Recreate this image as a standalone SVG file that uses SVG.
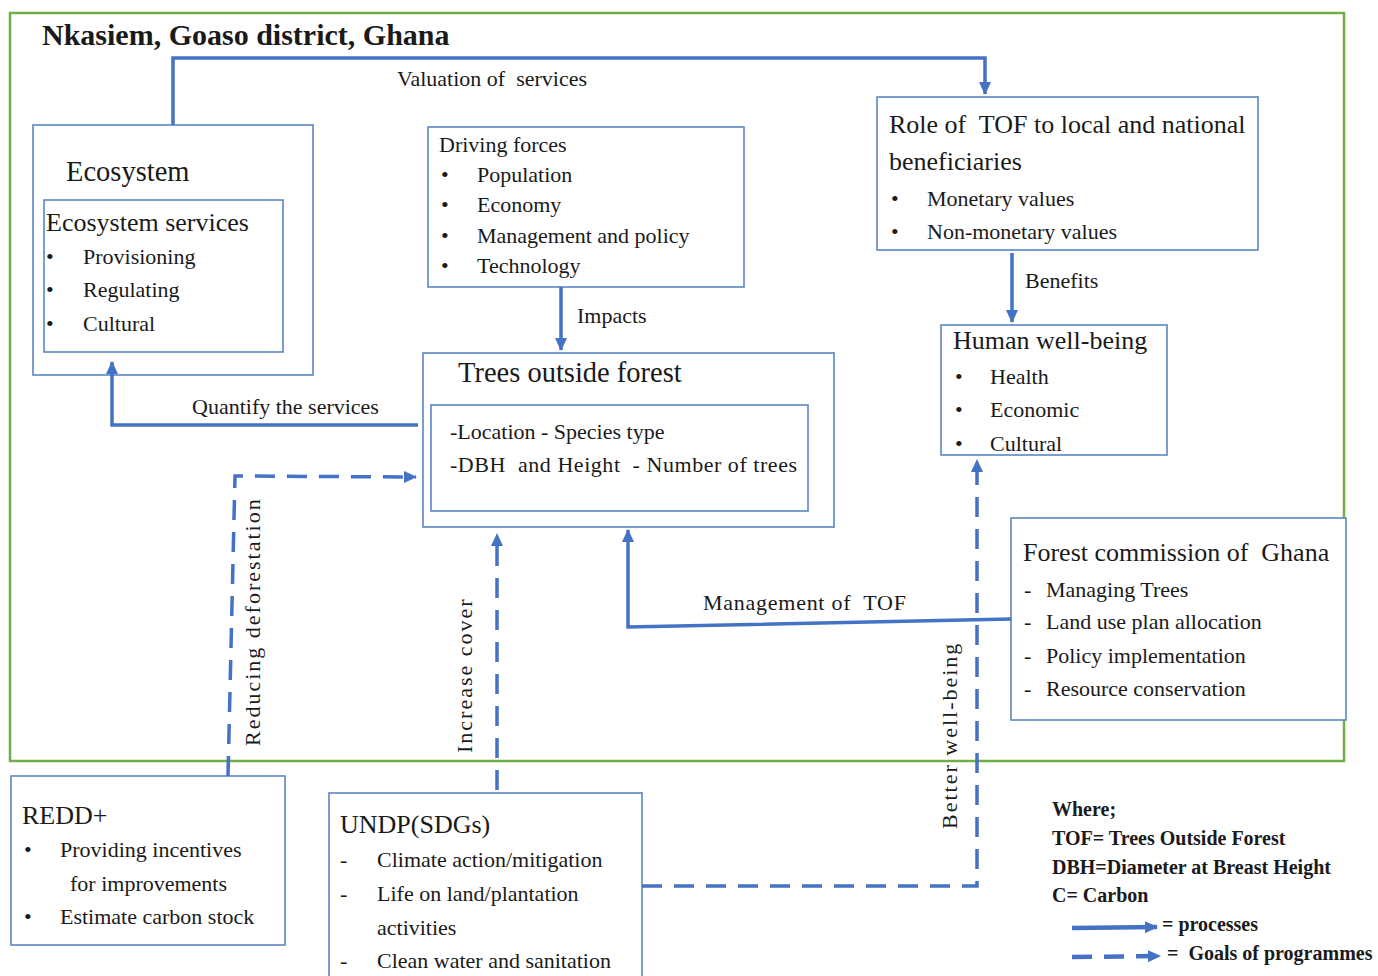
<svg xmlns="http://www.w3.org/2000/svg" width="1378" height="976" viewBox="0 0 1378 976">
<defs>
<style>
text{font-family:"Liberation Serif","Times New Roman",serif;fill:#1a1a1a;white-space:pre}
.box{fill:#fff;stroke:#5B87C0;stroke-width:1.6}
.frame{fill:none;stroke:#70AD47;stroke-width:2.5}
.con{fill:none;stroke:#4472C4;stroke-width:3.5}
.dash{fill:none;stroke:#4472C4;stroke-width:3.5;stroke-dasharray:20 12}
.t28{font-size:28.5px}
.t26{font-size:26px}
.t22{font-size:22px}
.rot{font-size:22px;letter-spacing:2px}
.leg{font-size:20px;font-weight:bold}
</style>
<marker id="ah" markerUnits="userSpaceOnUse" markerWidth="14" markerHeight="14" refX="12" refY="7" orient="auto">
<path d="M0,1 L13,7 L0,13 Z" fill="#4472C4"/>
</marker>
</defs>
<rect width="1378" height="976" fill="#fff"/>
<rect class="frame" x="10" y="13" width="1334" height="748"/>
<text x="42" y="45" style="font-size:30px;font-weight:bold">Nkasiem, Goaso district, Ghana</text>

<g id="ecosystem">
<rect class="box" x="33" y="125" width="280" height="250"/>
<text class="t28" x="66" y="181">Ecosystem</text>
<rect class="box" x="44" y="200" width="239" height="152"/>
<text class="t26" x="46" y="231">Ecosystem services</text>
<text class="t22" x="46" y="264">•</text><text class="t22" x="83" y="264">Provisioning</text>
<text class="t22" x="46" y="297">•</text><text class="t22" x="83" y="297">Regulating</text>
<text class="t22" x="46" y="331">•</text><text class="t22" x="83" y="331">Cultural</text>
</g>

<g id="driving-forces">
<rect class="box" x="428" y="127" width="316" height="160"/>
<text class="t22" x="439" y="152">Driving forces</text>
<text class="t22" x="441" y="182">•</text><text class="t22" x="477" y="182">Population</text>
<text class="t22" x="441" y="212">•</text><text class="t22" x="477" y="212">Economy</text>
<text class="t22" x="441" y="243">•</text><text class="t22" x="477" y="243">Management and policy</text>
<text class="t22" x="441" y="273">•</text><text class="t22" x="477" y="273">Technology</text>
</g>

<g id="trees-outside-forest">
<rect class="box" x="423" y="353" width="411" height="174"/>
<text class="t28" x="458" y="382">Trees outside forest</text>
<rect class="box" x="431" y="405" width="377" height="106"/>
<text class="t22" x="450" y="439">-Location - Species type</text>
<text class="t22" x="450" y="472" textLength="347" lengthAdjust="spacing">-DBH  and Height  - Number of trees</text>
</g>

<g id="role-of-tof">
<rect class="box" x="877" y="97" width="381" height="153"/>
<text class="t26" x="889" y="133">Role of  TOF to local and national</text>
<text class="t26" x="889" y="170">beneficiaries</text>
<text class="t22" x="891" y="206">•</text><text class="t22" x="927" y="206">Monetary values</text>
<text class="t22" x="891" y="239">•</text><text class="t22" x="927" y="239">Non-monetary values</text>
</g>

<g id="human-well-being">
<rect class="box" x="941" y="325" width="226" height="130"/>
<text class="t26" x="953" y="349">Human well-being</text>
<text class="t22" x="955" y="384">•</text><text class="t22" x="990" y="384">Health</text>
<text class="t22" x="955" y="417">•</text><text class="t22" x="990" y="417">Economic</text>
<text class="t22" x="955" y="451">•</text><text class="t22" x="990" y="451">Cultural</text>
</g>

<g id="forest-commission">
<rect class="box" x="1011" y="518" width="335" height="202"/>
<text class="t26" x="1023" y="561">Forest commission of  Ghana</text>
<text class="t22" x="1024" y="597">-</text><text class="t22" x="1046" y="597">Managing Trees</text>
<text class="t22" x="1024" y="629">-</text><text class="t22" x="1046" y="629">Land use plan allocation</text>
<text class="t22" x="1024" y="663">-</text><text class="t22" x="1046" y="663">Policy implementation</text>
<text class="t22" x="1024" y="696">-</text><text class="t22" x="1046" y="696">Resource conservation</text>
</g>

<g id="redd">
<rect class="box" x="11" y="776" width="274" height="169"/>
<text class="t26" x="22" y="824">REDD+</text>
<text class="t22" x="24" y="857">•</text><text class="t22" x="60" y="857">Providing incentives</text>
<text class="t22" x="70" y="891">for improvements</text>
<text class="t22" x="24" y="924">•</text><text class="t22" x="60" y="924">Estimate carbon stock</text>
</g>

<g id="undp">
<rect class="box" x="329" y="793" width="313" height="190"/>
<text class="t26" x="340" y="833">UNDP(SDGs)</text>
<text class="t22" x="340" y="867">-</text><text class="t22" x="377" y="867">Climate action/mitigation</text>
<text class="t22" x="340" y="901">-</text><text class="t22" x="377" y="901">Life on land/plantation</text>
<text class="t22" x="377" y="935">activities</text>
<text class="t22" x="340" y="968">-</text><text class="t22" x="377" y="968">Clean water and sanitation</text>
</g>

<g id="connectors">
<polyline class="con" points="173,125 173,58 985,58 985,94" marker-end="url(#ah)"/>
<line class="con" x1="561" y1="287" x2="561" y2="350" marker-end="url(#ah)"/>
<polyline class="con" points="418,425 112,425 112,362" marker-end="url(#ah)"/>
<line class="con" x1="1012" y1="253" x2="1012" y2="322" marker-end="url(#ah)"/>
<polyline class="con" points="1011,619 628,627 628,530" marker-end="url(#ah)"/>
<polyline class="dash" points="228,776 235,476 416,477" marker-end="url(#ah)"/>
<line class="dash" x1="497" y1="790" x2="497" y2="534" marker-end="url(#ah)"/>
<polyline class="dash" points="642,886 977,886 977,460" marker-end="url(#ah)"/>
<text class="t22" x="397" y="86">Valuation of  services</text>
<text class="t22" x="577" y="323">Impacts</text>
<text class="t22" x="192" y="414">Quantify the services</text>
<text class="t22" x="1025" y="288">Benefits</text>
<text class="t22" x="703" y="610" textLength="203" lengthAdjust="spacing">Management of  TOF</text>
<text class="rot" transform="translate(260,746) rotate(-90)">Reducing deforestation</text>
<text class="rot" transform="translate(472,753) rotate(-90)">Increase cover</text>
<text class="rot" transform="translate(957,829) rotate(-90)">Better well-being</text>
</g>

<g id="legend">
<text class="leg" x="1052" y="816">Where;</text>
<text class="leg" x="1052" y="845">TOF= Trees Outside Forest</text>
<text class="leg" x="1052" y="874">DBH=Diameter at Breast Height</text>
<text class="leg" x="1052" y="902">C= Carbon</text>
<line class="con" x1="1072" y1="928" x2="1157" y2="927" style="stroke-width:4.5" marker-end="url(#ah)"/>
<text class="leg" x="1162" y="931">= processes</text>
<line class="dash" x1="1072" y1="957" x2="1160" y2="956" style="stroke-width:4.5" marker-end="url(#ah)"/>
<text class="leg" x="1167" y="960">=  Goals of programmes</text>
</g>
</svg>
